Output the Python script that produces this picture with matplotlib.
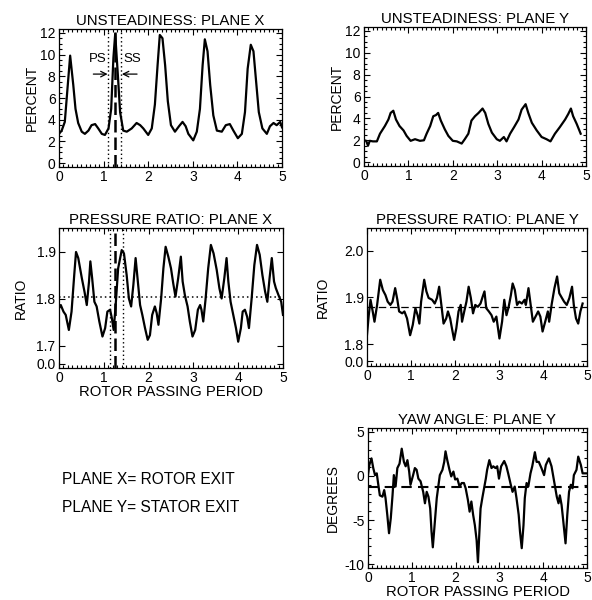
import matplotlib
matplotlib.use("Agg")
import matplotlib.pyplot as plt
from matplotlib.ticker import MultipleLocator, FixedLocator

plt.rcParams['font.family'] = ['Liberation Sans', 'DejaVu Sans']
plt.rcParams['axes.unicode_minus'] = False

# ---------------- data ----------------
x_unst_x = [0.00,0.06,0.13,0.25,0.32,0.37,0.43,0.51,0.58,0.66,0.73,0.81,0.88,0.96,1.03,1.11,1.17,1.22,1.26,1.32,1.37,1.44,1.52,1.63,1.74,1.82,1.89,2.00,2.08,2.15,2.21,2.26,2.32,2.38,2.44,2.51,2.60,2.69,2.77,2.84,2.90,3.01,3.09,3.16,3.22,3.27,3.33,3.39,3.46,3.54,3.65,3.74,3.83,3.91,4.01,4.10,4.17,4.23,4.30,4.36,4.42,4.48,4.56,4.66,4.73,4.81,4.88,4.96,5.00]
y_unst_x = [2.7,3.0,3.8,9.9,7.2,5.0,3.7,2.9,2.7,3.0,3.5,3.6,3.2,2.7,2.6,3.2,5.0,9.7,11.9,8.1,4.7,3.0,2.9,3.2,3.7,3.5,3.2,2.6,3.2,5.4,9.0,11.8,11.5,9.0,5.7,3.5,2.9,3.4,3.8,3.4,2.7,2.1,2.9,5.0,9.0,11.4,10.3,7.2,4.4,3.0,2.9,3.5,3.6,3.0,2.3,2.7,4.7,8.7,10.9,10.3,7.5,4.7,3.2,2.7,3.4,3.7,3.5,3.8,3.3]

x_unst_y = [0.00,0.05,0.09,0.13,0.20,0.29,0.36,0.47,0.55,0.60,0.66,0.72,0.80,0.89,0.96,1.05,1.15,1.26,1.35,1.41,1.49,1.56,1.62,1.67,1.73,1.82,1.90,2.00,2.09,2.20,2.27,2.35,2.42,2.50,2.58,2.67,2.73,2.80,2.88,2.99,3.06,3.15,3.21,3.29,3.38,3.48,3.55,3.64,3.70,3.78,3.89,4.00,4.11,4.20,4.30,4.41,4.53,4.60,4.66,4.71,4.79,4.88]
y_unst_y = [2.0,1.95,1.5,1.95,1.9,1.9,2.6,3.3,3.9,4.5,4.7,3.9,3.3,2.9,2.4,1.95,2.1,1.95,2.0,2.6,3.3,4.2,4.3,4.5,3.8,3.0,2.4,1.95,1.9,1.7,2.1,2.6,3.8,4.2,4.5,4.9,4.5,3.5,2.7,2.1,1.95,2.3,1.9,2.6,3.2,3.9,4.8,5.3,4.5,3.6,2.9,2.3,2.1,1.9,2.6,3.2,3.9,4.4,4.9,4.2,3.5,2.6]

x_pr_x = [0.00,0.04,0.10,0.15,0.22,0.28,0.34,0.38,0.43,0.51,0.57,0.62,0.67,0.70,0.74,0.79,0.84,0.90,0.97,1.03,1.08,1.14,1.18,1.22,1.26,1.32,1.40,1.45,1.51,1.56,1.61,1.66,1.71,1.76,1.81,1.86,1.92,1.98,2.03,2.08,2.14,2.18,2.22,2.28,2.33,2.38,2.44,2.50,2.55,2.60,2.66,2.72,2.76,2.81,2.87,2.92,2.98,3.04,3.10,3.15,3.18,3.22,3.27,3.33,3.39,3.45,3.52,3.58,3.63,3.69,3.74,3.78,3.83,3.89,3.95,4.00,4.06,4.10,4.15,4.20,4.24,4.30,4.36,4.42,4.48,4.54,4.60,4.65,4.70,4.75,4.80,4.84,4.90,4.96,5.00]
y_pr_x = [1.780,1.787,1.773,1.766,1.734,1.773,1.851,1.900,1.887,1.844,1.815,1.787,1.837,1.880,1.844,1.794,1.784,1.752,1.720,1.738,1.773,1.777,1.759,1.734,1.780,1.865,1.904,1.897,1.851,1.801,1.784,1.830,1.887,1.837,1.787,1.766,1.738,1.713,1.723,1.766,1.784,1.770,1.745,1.801,1.865,1.911,1.890,1.865,1.833,1.805,1.844,1.890,1.837,1.808,1.784,1.752,1.720,1.734,1.777,1.787,1.777,1.752,1.798,1.865,1.915,1.897,1.862,1.823,1.801,1.844,1.887,1.837,1.794,1.766,1.738,1.709,1.738,1.773,1.777,1.762,1.738,1.801,1.872,1.915,1.894,1.851,1.816,1.794,1.844,1.887,1.837,1.823,1.808,1.794,1.766]

x_pr_y = [0.00,0.04,0.08,0.13,0.17,0.23,0.30,0.36,0.42,0.47,0.53,0.58,0.64,0.69,0.73,0.80,0.85,0.91,0.98,1.04,1.10,1.15,1.19,1.23,1.30,1.35,1.40,1.48,1.54,1.59,1.64,1.69,1.74,1.80,1.84,1.89,1.93,1.98,2.03,2.08,2.13,2.16,2.21,2.26,2.31,2.36,2.41,2.46,2.52,2.58,2.63,2.67,2.71,2.77,2.83,2.88,2.94,3.01,3.07,3.12,3.17,3.22,3.27,3.31,3.36,3.41,3.46,3.52,3.58,3.61,3.67,3.72,3.77,3.83,3.89,3.94,3.99,4.05,4.11,4.14,4.20,4.26,4.32,4.37,4.43,4.48,4.54,4.60,4.66,4.70,4.75,4.80,4.85,4.90]
y_pr_y = [1.820,1.862,1.895,1.870,1.848,1.884,1.938,1.916,1.905,1.891,1.884,1.891,1.920,1.895,1.870,1.866,1.870,1.855,1.819,1.841,1.877,1.862,1.844,1.891,1.938,1.913,1.899,1.895,1.887,1.899,1.923,1.884,1.844,1.855,1.870,1.855,1.834,1.809,1.834,1.870,1.884,1.848,1.870,1.891,1.923,1.899,1.866,1.884,1.880,1.887,1.902,1.913,1.877,1.870,1.862,1.848,1.859,1.812,1.848,1.895,1.862,1.880,1.905,1.930,1.916,1.884,1.891,1.887,1.895,1.884,1.920,1.884,1.848,1.859,1.870,1.859,1.827,1.848,1.870,1.848,1.887,1.920,1.945,1.909,1.899,1.891,1.884,1.899,1.923,1.884,1.855,1.844,1.870,1.887]

x_yaw_y = [0.00,0.03,0.08,0.12,0.16,0.20,0.23,0.27,0.33,0.37,0.40,0.44,0.48,0.52,0.56,0.59,0.63,0.67,0.72,0.77,0.82,0.86,0.90,0.94,0.97,1.03,1.07,1.11,1.15,1.20,1.26,1.30,1.34,1.38,1.42,1.45,1.48,1.52,1.57,1.61,1.64,1.70,1.74,1.77,1.81,1.86,1.90,1.95,1.99,2.04,2.09,2.14,2.19,2.23,2.28,2.32,2.36,2.40,2.44,2.48,2.51,2.54,2.57,2.61,2.65,2.69,2.72,2.77,2.82,2.86,2.91,2.95,2.99,3.04,3.11,3.16,3.20,3.26,3.30,3.35,3.39,3.44,3.47,3.51,3.55,3.58,3.62,3.66,3.71,3.75,3.81,3.85,3.90,3.96,4.02,4.06,4.13,4.19,4.23,4.27,4.31,4.35,4.38,4.42,4.46,4.51,4.55,4.59,4.63,4.67,4.70,4.76,4.80,4.86,4.90,4.95,5.00]
y_yaw_y = [0.1,1.25,2.0,0.9,0.1,0.3,-0.8,-2.2,-2.35,-1.6,-2.5,-4.4,-6.5,-4.8,-2.2,0.1,-1.2,0.9,1.4,3.1,1.6,1.1,1.8,0.5,-1.0,0.1,0.9,0.7,-0.3,-0.6,-1.8,-3.1,-1.8,-2.35,-3.7,-6.3,-8.1,-5.6,-2.5,-1.0,0.1,0.7,1.6,2.8,1.8,0.7,-0.05,0.5,-0.4,-0.3,-1.2,-0.8,-0.8,-1.4,-2.7,-4.05,-2.9,-4.4,-5.6,-7.3,-9.8,-6.7,-3.7,-2.5,-1.4,-0.3,0.7,1.8,0.9,1.1,0.9,1.1,-0.3,1.1,1.7,1.1,0.3,-1.0,-1.8,-1.2,-2.5,-4.4,-6.3,-8.2,-5.6,-2.5,-0.8,-1.2,0.3,1.1,2.7,1.6,1.6,0.9,0.1,1.25,2.0,1.1,-0.05,-1.2,-2.35,-3.1,-2.2,-3.3,-5.2,-7.65,-4.4,-1.8,-1.0,-1.4,0.1,0.7,2.2,1.25,0.3,0.3,0.3]

mean_pr_x = 1.805
mean_pr_y = 1.880
mean_yaw_y = -1.2
marker_lines_x_top = [1.10, 1.25, 1.40]
marker_lines_x_mid = [1.13, 1.25, 1.43]

x_ticks = [0, 1, 2, 3, 4, 5]
titles = ["UNSTEADINESS: PLANE X", "UNSTEADINESS: PLANE Y",
          "PRESSURE RATIO: PLANE X", "PRESSURE RATIO: PLANE Y",
          "YAW ANGLE: PLANE Y"]

# ---------------- figure ----------------
W, H = 592, 600
fig = plt.figure(figsize=(W / 100, H / 100), dpi=100)

def box(l, t, r, b):
    return [l / W, 1 - b / H, (r - l) / W, (b - t) / H]

TFS = 10.8   # titles
YFS = 10.0   # y labels
XFS = 10.7   # x labels
KFS = 10.0   # tick labels
NFS = 11.2   # notes
AFS = 9.5    # PS / SS

def style(ax, title, ylabel, xlabel=None, ypad=1):
    ax.set_xlim(0, 5)
    ax.set_xticks(x_ticks)
    ax.xaxis.set_minor_locator(MultipleLocator(0.1))
    ax.tick_params(which='both', direction='in', top=True, right=True,
                   labelsize=KFS, width=0.8)
    ax.tick_params(which='major', length=4)
    ax.tick_params(axis='x', which='major', pad=2.5)
    ax.tick_params(axis='y', which='major', pad=2.5)
    ax.tick_params(which='minor', length=2)
    for s in ax.spines.values():
        s.set_linewidth(0.9)
    ax.set_title(title, fontsize=TFS, pad=3)
    ax.set_ylabel(ylabel, fontsize=YFS, labelpad=ypad)
    if xlabel:
        ax.set_xlabel(xlabel, fontsize=XFS, labelpad=0)

LW = 1.6

# Panel 1
ax1 = fig.add_axes(box(59, 29, 282, 167))
ax1.plot(x_unst_x, y_unst_x, color='black', lw=LW)
ax1.set_ylim(-0.35, 12.35)
ax1.set_yticks([0, 2, 4, 6, 8, 10, 12])
ax1.yaxis.set_minor_locator(MultipleLocator(0.5))
ax1.axvline(marker_lines_x_top[0], color='black', lw=1.0, ls=(0, (1, 2)))
ax1.axvline(marker_lines_x_top[1], color='black', lw=1.8, ls=(0, (5, 2)))
ax1.axvline(marker_lines_x_top[2], color='black', lw=1.0, ls=(0, (1, 2)))
ax1.text(0.88, 9.55, "PS", fontsize=AFS, ha='center', va='center')
ax1.text(1.64, 9.55, "SS", fontsize=AFS, ha='center', va='center')
ax1.annotate('', xy=(1.09, 8.2), xytext=(0.77, 8.2),
             arrowprops=dict(arrowstyle='->', lw=0.9, color='black',
                             shrinkA=0, shrinkB=0))
ax1.annotate('', xy=(1.41, 8.2), xytext=(1.75, 8.2),
             arrowprops=dict(arrowstyle='->', lw=0.9, color='black',
                             shrinkA=0, shrinkB=0))
style(ax1, titles[0], "PERCENT", ypad=1)

# Panel 2
ax2 = fig.add_axes(box(364, 27, 586, 166))
ax2.plot(x_unst_y, y_unst_y, color='black', lw=LW)
ax2.set_ylim(-0.35, 12.35)
ax2.set_yticks([0, 2, 4, 6, 8, 10, 12])
ax2.yaxis.set_minor_locator(MultipleLocator(0.5))
style(ax2, titles[1], "PERCENT", ypad=1)

# Panel 3
ax3 = fig.add_axes(box(59, 228, 283, 368))
ax3.plot(x_pr_x, y_pr_x, color='black', lw=LW)
ax3.set_ylim(1.653, 1.951)
ax3.set_yticks([1.662, 1.7, 1.8, 1.9])
ax3.set_yticklabels(["0.0", "1.7", "1.8", "1.9"])
ax3.yaxis.set_minor_locator(FixedLocator([]))
ax3.axhline(mean_pr_x, color='black', lw=1.1, ls=(0, (1, 2)))
ax3.axvline(marker_lines_x_mid[0], color='black', lw=1.0, ls=(0, (1, 2)))
ax3.axvline(marker_lines_x_mid[1], color='black', lw=1.8, ls=(0, (5, 2)))
ax3.axvline(marker_lines_x_mid[2], color='black', lw=1.0, ls=(0, (1, 2)))
style(ax3, titles[2], "RATIO", "ROTOR PASSING PERIOD", ypad=6)

# Panel 4
ax4 = fig.add_axes(box(367, 228, 587, 366))
ax4.plot(x_pr_y, y_pr_y, color='black', lw=LW)
ax4.set_ylim(1.753, 2.049)
ax4.set_yticks([1.763, 1.8, 1.9, 2.0])
ax4.set_yticklabels(["0.0", "1.8", "1.9", "2.0"])
ax4.yaxis.set_minor_locator(FixedLocator([]))
ax4.axhline(mean_pr_y, color='black', lw=0.9, ls=(0, (6, 3)))
style(ax4, titles[3], "RATIO", ypad=10)

# Panel 5
ax5 = fig.add_axes(box(368, 428, 587, 568))
ax5.plot(x_yaw_y, y_yaw_y, color='black', lw=LW)
ax5.set_ylim(-10.45, 5.45)
ax5.set_yticks([-10, -5, 0, 5])
ax5.yaxis.set_minor_locator(MultipleLocator(1))
ax5.axhline(mean_yaw_y, color='black', lw=1.5, ls=(0, (5, 3)))
style(ax5, titles[4], "DEGREES", "ROTOR PASSING PERIOD", ypad=3)

fig.text(62 / W, 1 - 479 / H, "PLANE X= ROTOR EXIT", fontsize=NFS, ha='left', va='center')
fig.text(62 / W, 1 - 507 / H, "PLANE Y= STATOR EXIT", fontsize=NFS, ha='left', va='center')

fig.savefig("out.png", dpi=100)
